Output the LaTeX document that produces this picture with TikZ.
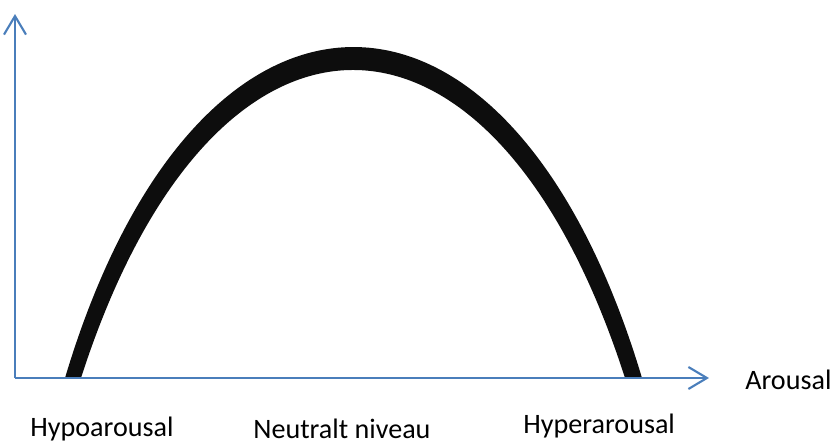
\documentclass[tikz,border=0pt]{standalone}
\usepackage{fontspec}
\setmainfont{Carlito}
\usetikzlibrary{arrows.meta}
\definecolor{axisblue}{RGB}{74,126,187}

\begin{document}
\begin{tikzpicture}[
    axis/.style={draw=axisblue, line width=1.2pt,
      -{Straight Barb[length=0.37cm, width=0.44cm, line width=1.2pt]}},
    lbl/.style={anchor=base west, inner sep=0pt,
      font=\fontsize{16}{19}\selectfont}
  ]

  \useasboundingbox (0,0) rectangle (16.7,8.82);

  % the curve, thicker at the top
  \fill[black!95] (1.30,1.26) .. controls (3.94,10.086) and (10.20,10.086) .. (12.84,1.26)
    -- (12.50,1.26) .. controls (9.86,9.474) and (4.26,9.474) .. (1.62,1.26) -- cycle;

  \coordinate (origin) at (0.3,1.26);
  \coordinate (ytop) at (0.3,8.54);
  \coordinate (xend) at (14.18,1.26);

  \draw[axis] (origin) -- (ytop);
  \draw[axis] (origin) -- (xend);

  \node[lbl] (arousal) at (14.9,1.04) {Arousal};
  \node[lbl] (hypo) at (0.6,0.10) {Hypoarousal};
  \node[lbl] (neutral) at (5.06,0.06) {Neutralt niveau};
  \node[lbl] (hyper) at (10.46,0.16) {Hyperarousal};

\end{tikzpicture}
\end{document}
